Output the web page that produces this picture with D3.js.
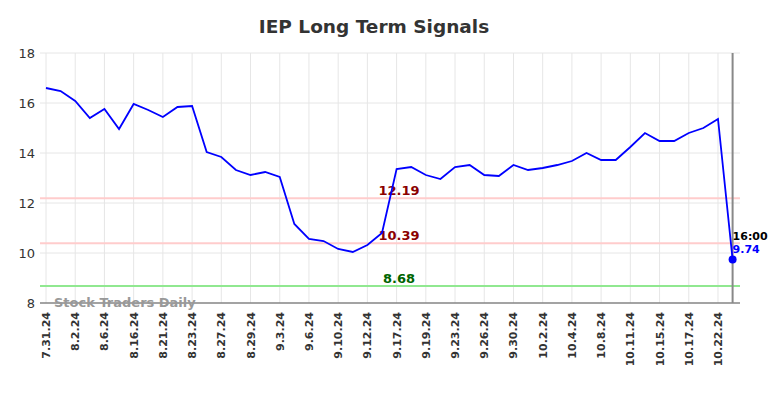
<!DOCTYPE html>
<html>
<head>
<meta charset="utf-8">
<script src="https://cdn.jsdelivr.net/npm/d3@7"></script>
<style>
  body { margin: 0; background: #fff; }
  svg text { font-family: "DejaVu Sans", sans-serif; }
</style>
</head>
<body>
<div id="vis"></div>
<script>
// labelled dates (every other point)
const tickLabels = ["7.31.24","8.2.24","8.6.24","8.16.24","8.21.24","8.23.24","8.27.24","8.29.24",
  "9.3.24","9.6.24","9.10.24","9.12.24","9.17.24","9.19.24","9.23.24","9.26.24","9.30.24",
  "10.2.24","10.4.24","10.8.24","10.11.24","10.15.24","10.17.24","10.22.24"]

// closing prices, one per trading session
const prices = [16.6,16.48,16.08,15.4,15.76,14.96,15.96,15.72,15.44,15.84,15.88,14.04,13.84,13.32,
  13.12,13.24,13.04,11.16,10.56,10.48,10.16,10.04,10.32,10.8,13.36,13.44,13.12,12.96,13.44,13.52,
  13.12,13.08,13.52,13.32,13.4,13.52,13.68,14.0,13.72,13.72,14.24,14.8,14.48,14.48,14.8,15.0,15.36,9.74]

const levels = [12.19, 10.39, 8.68]
const levelKinds = ["resist", "resist", "support"]
const yTicks = [8, 10, 12, 14, 16, 18]
const lastLabel = "16:00"

const W = 784, H = 398
const svg = d3.select("#vis").append("svg").attr("width", W).attr("height", H)

const x = d3.scaleLinear().domain([0, prices.length - 1]).range([46, 732.6])
const y = d3.scaleLinear().domain([8, 18]).range([303, 53])
const left = 40, right = 740

// title
svg.append("text").attr("x", 374).attr("y", 33).attr("text-anchor", "middle")
  .attr("font-size", 18.5).attr("font-weight", "bold").attr("fill", "#333")
  .text("IEP Long Term Signals")

// grid
svg.append("g").selectAll("line").data(yTicks).join("line")
  .attr("x1", left).attr("x2", right)
  .attr("y1", d => y(d)).attr("y2", d => y(d))
  .attr("stroke", "#e6e6e6").attr("stroke-width", 1)

svg.append("g").selectAll("line").data(tickLabels).join("line")
  .attr("x1", (d, i) => x(i * 2)).attr("x2", (d, i) => x(i * 2))
  .attr("y1", y(18)).attr("y2", y(8))
  .attr("stroke", "#e6e6e6").attr("stroke-width", 1)

// y labels
svg.append("g").selectAll("text").data(yTicks).join("text")
  .attr("x", 35).attr("y", d => y(d) + 5).attr("text-anchor", "end")
  .attr("font-size", 13).attr("fill", "#333")
  .text(d => d)

// x labels
svg.append("g").selectAll("text").data(tickLabels).join("text")
  .attr("transform", (d, i) => `translate(${x(i * 2) + 4},312) rotate(-90)`)
  .attr("text-anchor", "end")
  .attr("font-size", 11).attr("font-weight", "bold").attr("fill", "#333")
  .text(d => d)

// bottom axis line
svg.append("line").attr("x1", left).attr("x2", right).attr("y1", y(8)).attr("y2", y(8))
  .attr("stroke", "#555").attr("stroke-width", 1.2)

// level lines
svg.append("g").selectAll("line").data(levels).join("line")
  .attr("x1", left).attr("x2", right)
  .attr("y1", d => y(d)).attr("y2", d => y(d))
  .attr("stroke", (d, i) => levelKinds[i] == "support" ? "#90e890" : "#ffcccc")
  .attr("stroke-width", 2)

svg.append("g").selectAll("text").data(levels).join("text")
  .attr("x", 399).attr("y", d => y(d) - 3.5).attr("text-anchor", "middle")
  .attr("font-size", 13).attr("font-weight", "bold")
  .attr("fill", (d, i) => levelKinds[i] == "support" ? "#006400" : "#8b0000")
  .text(d => d.toFixed(2))

// watermark
svg.append("text").attr("x", 54).attr("y", 307)
  .attr("font-size", 13).attr("font-weight", "bold").attr("fill", "#999")
  .text("Stock Traders Daily")

// vertical marker at last point
const lastI = prices.length - 1
svg.append("line").attr("x1", x(lastI)).attr("x2", x(lastI)).attr("y1", y(18)).attr("y2", y(8))
  .attr("stroke", "#888").attr("stroke-width", 2)

// price line
const line = d3.line().x((d, i) => x(i)).y(d => y(d))
svg.append("path").datum(prices).attr("d", line)
  .attr("fill", "none").attr("stroke", "#0000ff").attr("stroke-width", 1.8)

svg.append("circle").attr("cx", x(lastI)).attr("cy", y(prices[lastI])).attr("r", 4)
  .attr("fill", "#0000ff")

svg.append("text").attr("x", x(lastI)).attr("y", 240)
  .attr("font-size", 11).attr("font-weight", "bold").attr("fill", "#000")
  .text(lastLabel)
svg.append("text").attr("x", x(lastI)).attr("y", 253)
  .attr("font-size", 11).attr("font-weight", "bold").attr("fill", "#0000ff")
  .text(prices[lastI])
</script>
</body>
</html>
